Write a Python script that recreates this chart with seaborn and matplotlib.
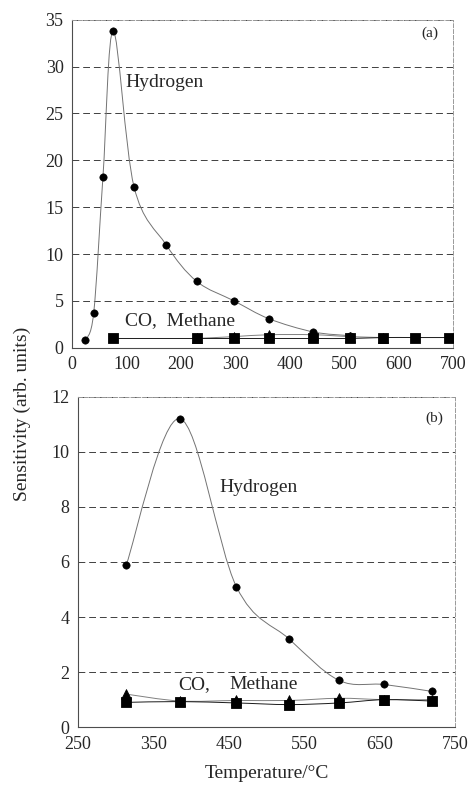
import matplotlib
matplotlib.use("Agg")
import matplotlib.pyplot as plt
from matplotlib.path import Path
from matplotlib.patches import PathPatch
import seaborn as sns
import pandas as pd
import numpy as np

# Panel (a) data
a_h2_t = [24, 40, 57, 76, 114, 173, 229, 298, 362, 443, 510]
a_h2_s = [0.8, 3.7, 18.2, 33.8, 17.2, 11.0, 7.1, 5.0, 3.1, 1.7, 1.3]
a_co_t = [229, 298, 362, 443, 510, 571]
a_co_s = [1.0, 1.2, 1.4, 1.4, 1.2, 1.1]
a_ch4_t = [76, 229, 298, 362, 443, 510, 571, 630, 692]
a_ch4_s = [1.0, 1.0, 1.0, 1.0, 1.0, 1.0, 1.1, 1.1, 1.1]

# Panel (b) data
b_t = [314, 385, 460, 530, 596, 656, 719]
b_h2_s = [5.9, 11.2, 5.1, 3.2, 1.7, 1.55, 1.3]
b_co_s = [1.2, 0.95, 0.97, 0.97, 1.05, 1.0, 1.0]
b_ch4_s = [0.9, 0.93, 0.88, 0.82, 0.88, 1.0, 0.95]

sns.set_style("white")
plt.rcParams['font.family'] = ['Liberation Serif', 'DejaVu Serif']


def smooth_line(ax, x, y, color="0.45", lw=0.7):
    # Catmull-Rom style bezier, like a spreadsheet "smoothed line"
    x = np.asarray(x, float)
    y = np.asarray(y, float)
    pts = np.column_stack([x, y])
    verts = [pts[0]]
    codes = [Path.MOVETO]
    n = len(pts)
    for i in range(n - 1):
        p0 = pts[i - 1] if i > 0 else pts[i]
        p1 = pts[i]
        p2 = pts[i + 1]
        p3 = pts[i + 2] if i + 2 < n else pts[i + 1]
        c1 = p1 + (p2 - p0) / 6.0
        c2 = p2 - (p3 - p1) / 6.0
        verts += [c1, c2, p2]
        codes += [Path.CURVE4] * 3
    ax.add_patch(PathPatch(Path(verts, codes), fill=False, edgecolor=color, lw=lw, zorder=2))


def style_axes(ax, xlim, ylim, xticks, yticks):
    ax.set_xlim(*xlim)
    ax.set_ylim(*ylim)
    ax.set_xticks(xticks)
    ax.set_yticks(yticks)
    ax.yaxis.grid(True, linestyle=(0, (7, 4)), color="0.25", lw=0.7)
    ax.xaxis.grid(False)
    for s in ["top", "right"]:
        ax.spines[s].set_color("0.6")
        ax.spines[s].set_linestyle((0, (4, 2)))
        ax.spines[s].set_linewidth(0.7)
    for s in ["left", "bottom"]:
        ax.spines[s].set_color("0.3")
        ax.spines[s].set_linewidth(0.8)
    ax.tick_params(axis="both", labelsize=13, length=3, direction="out", color="0.3", pad=3)
    ax.set_xlabel("")
    ax.set_ylabel("")


fig = plt.figure(figsize=(4.76, 7.87), dpi=100)
ax1 = fig.add_axes([0.151, 0.558, 0.801, 0.417])
ax2 = fig.add_axes([0.164, 0.076, 0.792, 0.420])

# panel (a)
smooth_line(ax1, a_h2_t, a_h2_s)
smooth_line(ax1, a_co_t, a_co_s, color="0.5")
smooth_line(ax1, a_ch4_t, a_ch4_s, color="0.1")
sns.scatterplot(x=a_h2_t, y=a_h2_s, ax=ax1, marker="o", s=28, color="black", edgecolor="black", zorder=3)
sns.scatterplot(x=a_co_t, y=a_co_s, ax=ax1, marker="^", s=50, color="black", edgecolor="black", zorder=3)
sns.scatterplot(x=a_ch4_t, y=a_ch4_s, ax=ax1, marker="s", s=55, color="black", edgecolor="black", zorder=4)
style_axes(ax1, (0, 700), (0, 35), range(0, 701, 100), range(0, 36, 5))
ax1.text(98, 28.3, "Hydrogen", fontsize=14, va="center", ha="left")
ax1.text(98, 2.9, "CO,  Methane", fontsize=14, va="center", ha="left")
ax1.text(658, 33.6, "(a)", fontsize=11, va="center", ha="center")

# panel (b)
smooth_line(ax2, b_t, b_h2_s)
smooth_line(ax2, b_t, b_co_s, color="0.5")
smooth_line(ax2, b_t, b_ch4_s, color="0.1")
sns.scatterplot(x=b_t, y=b_h2_s, ax=ax2, marker="o", s=28, color="black", edgecolor="black", zorder=3)
sns.scatterplot(x=b_t, y=b_co_s, ax=ax2, marker="^", s=50, color="black", edgecolor="black", zorder=3)
sns.scatterplot(x=b_t, y=b_ch4_s, ax=ax2, marker="s", s=55, color="black", edgecolor="black", zorder=4)
style_axes(ax2, (250, 750), (0, 12), range(250, 751, 100), range(0, 13, 2))
ax2.text(437, 8.7, "Hydrogen", fontsize=14, va="center", ha="left")
ax2.text(383, 1.55, "CO,", fontsize=14, va="center", ha="left")
ax2.text(451, 1.55, "Methane", fontsize=14, va="center", ha="left")
ax2.text(723, 11.2, "(b)", fontsize=11, va="center", ha="center")
ax2.set_xlabel("Temperature/°C", fontsize=14, labelpad=9)

fig.text(0.046, 0.474, "Sensitivity (arb. units)", rotation=90, fontsize=14, va="center", ha="center")

fig.savefig("out.png", dpi=100)
